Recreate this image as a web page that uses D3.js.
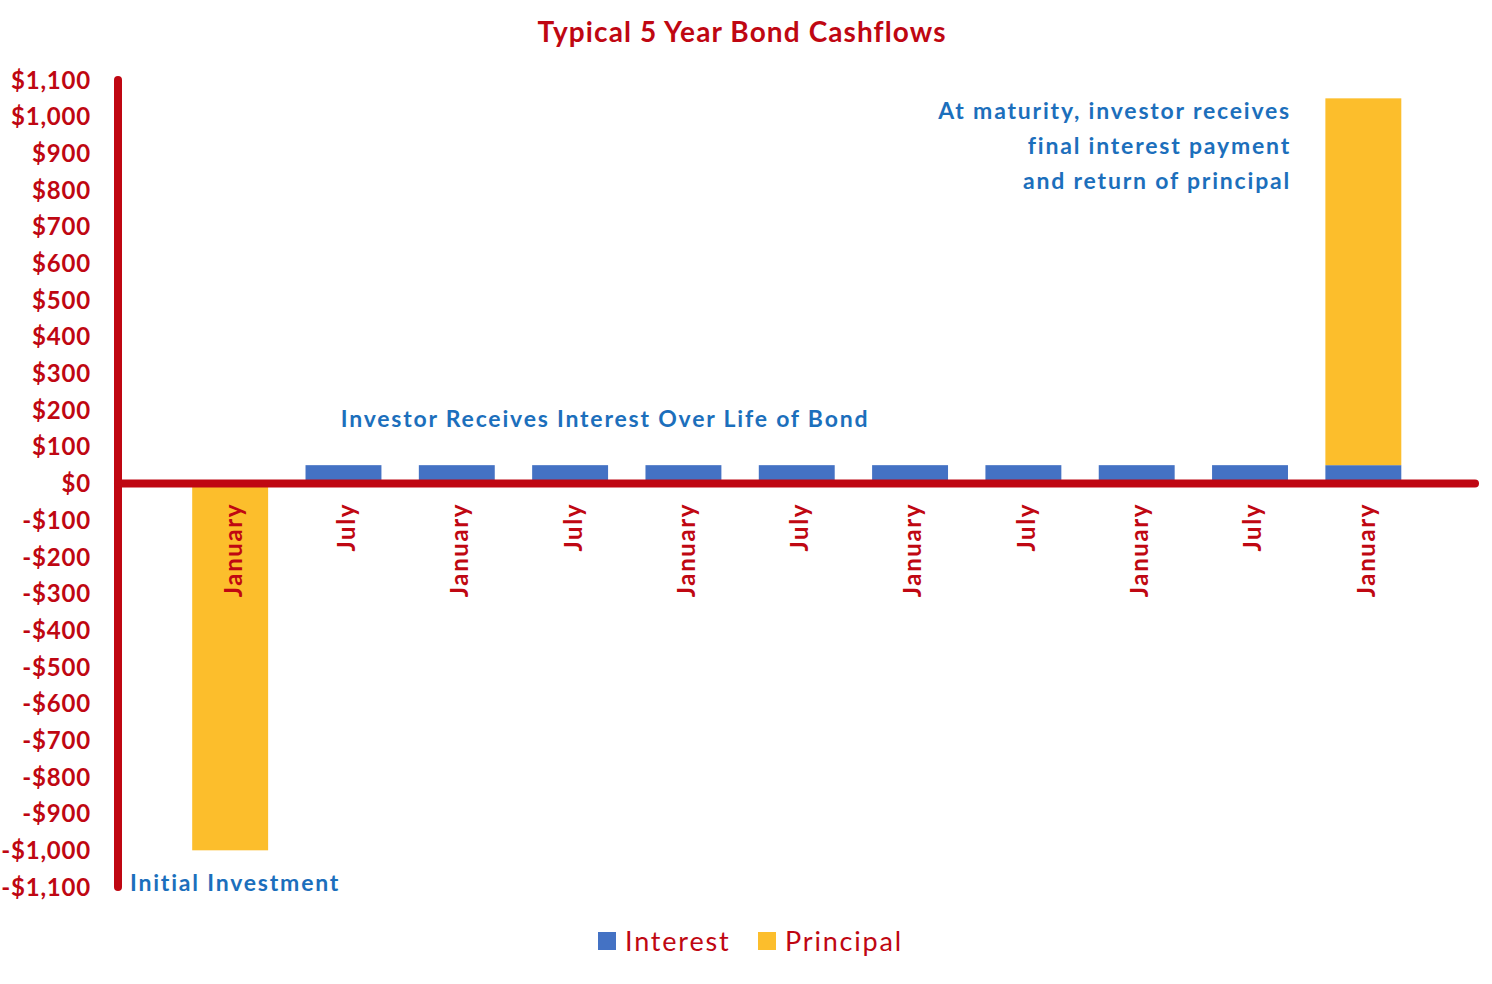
<!DOCTYPE html>
<html>
<head>
<meta charset="utf-8">
<script src="https://cdn.jsdelivr.net/npm/d3@7"></script>
<style>
  body { margin: 0; background: #fff; }
  text { font-family: Lato, "Open Sans", sans-serif; }
</style>
</head>
<body>
<div id="chart"></div>
<script>
const WIDTH = 1492;
const HEIGHT = 984;
const RED = "#BF0712";
const BLUE_TEXT = "#1C6FBC";

// data
const categories = ["January", "July", "January", "July", "January", "July",
                    "January", "July", "January", "July", "January"];
const interest = [0, 50, 50, 50, 50, 50, 50, 50, 50, 50, 50];
const principal = [-1000, 0, 0, 0, 0, 0, 0, 0, 0, 0, 1000];
const yTicks = d3.range(-1100, 1101, 100);
const seriesNames = ["Interest", "Principal"];
const seriesColors = ["#4472C4", "#FCBE2C"];

const rows = categories.map((c, i) => ({ idx: i, Interest: interest[i], Principal: principal[i] }));

const svg = d3.select("#chart")
    .append("svg")
    .attr("width", WIDTH)
    .attr("height", HEIGHT);

const y = d3.scaleLinear()
    .domain([-1100, 1100])
    .range([887, 80]);

const x = d3.scaleBand()
    .domain(rows.map(d => d.idx))
    .range([173.5, 1420])
    .paddingInner(0.33)
    .paddingOuter(0.165);

const stacked = d3.stack()
    .keys(seriesNames)
    .offset(d3.stackOffsetDiverging)(rows);

// title
svg.append("text")
    .attr("x", 742)
    .attr("y", 42)
    .attr("text-anchor", "middle")
    .attr("font-size", 28)
    .attr("font-weight", "bold")
    .attr("letter-spacing", 1.1)
    .attr("fill", RED)
    .text("Typical 5 Year Bond Cashflows");

// bars
svg.append("g")
    .selectAll("g")
    .data(stacked)
    .join("g")
    .attr("fill", (d, i) => seriesColors[i])
    .selectAll("rect")
    .data(d => d)
    .join("rect")
    .attr("x", d => x(d.data.idx))
    .attr("width", x.bandwidth())
    .attr("y", d => y(Math.max(d[0], d[1])))
    .attr("height", d => Math.abs(y(d[0]) - y(d[1])));

// y tick labels
const fmt = d3.format(",");
svg.append("g")
    .selectAll("text")
    .data(yTicks)
    .join("text")
    .attr("x", 91)
    .attr("y", d => y(d))
    .attr("dy", "0.36em")
    .attr("text-anchor", "end")
    .attr("font-size", 24)
    .attr("font-weight", "bold")
    .attr("letter-spacing", 0.8)
    .attr("fill", RED)
    .text(d => (d < 0 ? "-" : "") + "$" + fmt(Math.abs(d)));

// axis lines
svg.append("line")
    .attr("x1", 118).attr("x2", 118)
    .attr("y1", y(1100)).attr("y2", y(-1100))
    .attr("stroke", RED)
    .attr("stroke-width", 8)
    .attr("stroke-linecap", "round");

svg.append("line")
    .attr("x1", 118).attr("x2", 1475)
    .attr("y1", y(0)).attr("y2", y(0))
    .attr("stroke", RED)
    .attr("stroke-width", 8)
    .attr("stroke-linecap", "round");

// category labels
svg.append("g")
    .selectAll("text")
    .data(rows)
    .join("text")
    .attr("transform", d => `translate(${x(d.idx) + x.bandwidth() / 2 + 3},503) rotate(-90)`)
    .attr("dy", "0.35em")
    .attr("text-anchor", "end")
    .attr("font-size", 24)
    .attr("font-weight", "bold")
    .attr("letter-spacing", 1.6)
    .attr("fill", RED)
    .text(d => categories[d.idx]);

// annotations
const notes = svg.append("g")
    .attr("font-weight", "bold")
    .attr("font-size", 23)
    .attr("letter-spacing", 1.8)
    .attr("fill", BLUE_TEXT);

notes.append("text")
    .attr("x", 605).attr("y", 427)
    .attr("text-anchor", "middle")
    .text("Investor Receives Interest Over Life of Bond");

notes.append("text")
    .attr("x", 130).attr("y", 891)
    .text("Initial Investment");

const maturity = ["At maturity, investor receives", "final interest payment", "and return of principal"];
notes.selectAll(".mat")
    .data(maturity)
    .join("text")
    .attr("class", "mat")
    .attr("x", 1291)
    .attr("y", (d, i) => 119 + i * 35)
    .attr("text-anchor", "end")
    .text(d => d);

// legend
const legend = svg.append("g")
    .selectAll("g")
    .data(seriesNames)
    .join("g")
    .attr("transform", (d, i) => `translate(${598 + i * 160},932)`);

legend.append("rect")
    .attr("width", 18)
    .attr("height", 18)
    .attr("fill", (d, i) => seriesColors[i]);

legend.append("text")
    .attr("x", 27)
    .attr("y", 19)
    .attr("font-size", 27)
    .attr("letter-spacing", 1.8)
    .attr("fill", RED)
    .text(d => d);
</script>
</body>
</html>
